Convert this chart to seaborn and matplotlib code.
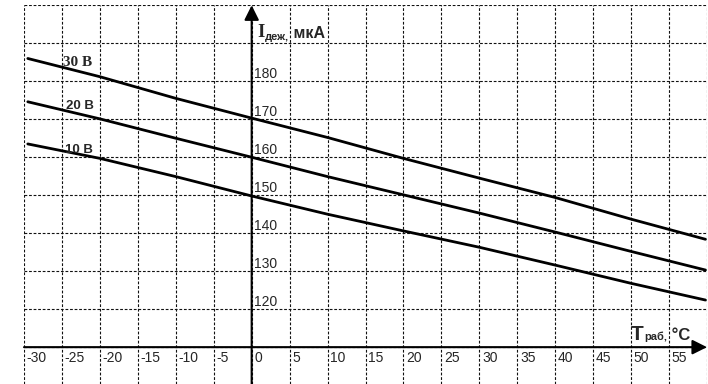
import numpy as np
import pandas as pd
import seaborn as sns
import matplotlib.pyplot as plt

# Values
temps = [-29.5, -20, -10, 0, 10, 20, 30, 40, 50, 59.8]
i_30v = [186.0, 181.2, 175.5, 170.3, 165.2, 159.7, 154.5, 149.4, 143.7, 138.4]
i_20v = [174.6, 170.1, 165.0, 160.0, 154.9, 150.1, 145.3, 140.3, 135.2, 130.3]
i_10v = [163.5, 159.7, 154.9, 149.8, 145.0, 140.6, 136.3, 131.6, 126.8, 122.4]
voltages = ["30 В", "20 В", "10 В"]

x_grid = list(range(-30, 65, 5))
y_grid = list(range(110, 210, 10))
x_labels = list(range(-30, 60, 5))
y_labels = [120, 130, 140, 150, 160, 170, 180]

df = pd.DataFrame({
    "T": temps * 3,
    "I": i_30v + i_20v + i_10v,
    "U": [v for v in voltages for _ in temps],
})

sns.set_style("white")
plt.rcParams["font.family"] = ["Liberation Sans", "DejaVu Sans"]

fig = plt.figure(figsize=(7.08, 3.84), dpi=100)
ax = fig.add_axes([24 / 708, 0, 683 / 708, 1 - 5.3 / 384])

sns.lineplot(data=df, x="T", y="I", hue="U", palette=["black"] * 3,
             linewidth=2.0, legend=False, ax=ax)

ax.set_xlim(-30, 60)
ax.set_ylim(100.3, 200)
ax.set_xticks(x_grid)
ax.set_yticks(y_grid)
ax.grid(True, color="#111111", linewidth=0.8, linestyle=(0, (2.5, 1.6)))
ax.tick_params(length=0, labelbottom=False, labelleft=False)
for s in ax.spines.values():
    s.set_visible(False)
ax.set_xlabel("")
ax.set_ylabel("")

# axes with arrows
arrow = dict(arrowstyle="-|>", lw=1.5, color="black", mutation_scale=22,
             shrinkA=0, shrinkB=0)
ax.annotate("", xy=(60, 110), xytext=(-30, 110), arrowprops=arrow,
            annotation_clip=False)
ax.annotate("", xy=(0, 200), xytext=(0, 100.3), arrowprops=arrow,
            annotation_clip=False)

# tick labels next to the grid lines
for v in x_labels:
    ax.text(v + 0.35, 106.2, str(v), fontsize=10, va="baseline", ha="left")
for v in y_labels:
    ax.text(0.25, v + 0.8, str(v), fontsize=10, va="baseline", ha="left")

# curve labels
ax.text(-24.8, 184.1, voltages[0], fontsize=11, fontweight="bold",
        family="Liberation Serif", va="baseline")
ax.text(-24.4, 172.6, voltages[1], fontsize=9.5, fontweight="bold", va="baseline")
ax.text(-24.6, 161.0, voltages[2], fontsize=9.5, fontweight="bold", va="baseline")

# axis titles
t1 = ax.text(0.7, 191.6, "I", fontsize=13.5, fontweight="bold",
             family="Liberation Serif", va="baseline")
t2 = ax.annotate("деж,", xy=(1, 0), xycoords=t1, xytext=(0.5, -0.5),
                 textcoords="offset points", fontsize=8, fontweight="bold",
                 va="bottom")
ax.annotate(" мкА", xy=(1, 0), xycoords=t2, xytext=(0, 0.5),
            textcoords="offset points", fontsize=11.5, fontweight="bold",
            va="bottom")

t3 = ax.text(50.0, 111.9, "T", fontsize=15, fontweight="bold", va="baseline")
t4 = ax.annotate("раб,", xy=(1, 0), xycoords=t3, xytext=(0, 1.5),
                 textcoords="offset points", fontsize=8, fontweight="bold",
                 va="bottom")
ax.annotate(" °C", xy=(1, 0), xycoords=t4, xytext=(0, -0.5),
            textcoords="offset points", fontsize=12, fontweight="bold",
            va="bottom")

fig.savefig("out.png", dpi=100)
